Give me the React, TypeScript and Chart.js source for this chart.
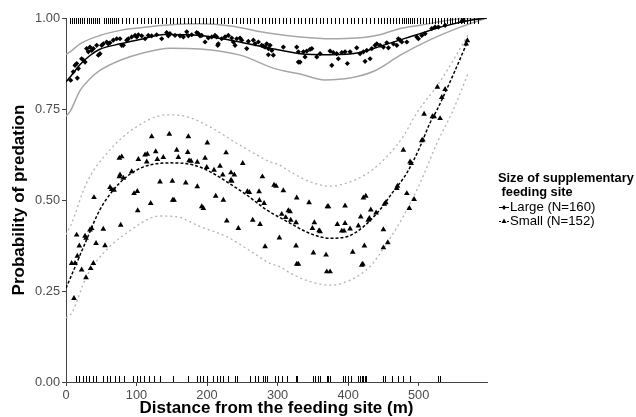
import React, { useEffect, useRef } from 'react';
import { Chart, registerables } from 'chart.js';
Chart.register(...registerables);

const FONT = "'Liberation Sans', Arial, sans-serif";

// Large site: fitted curve and 95% band
const largeFitX = [0, 6, 20, 34, 48, 77, 105, 140, 190, 233, 282, 332, 375, 417, 445, 474, 502, 531, 573, 597];
const largeFitY = [0.825, 0.838, 0.872, 0.897, 0.914, 0.929, 0.941, 0.955, 0.952, 0.939, 0.920, 0.902, 0.899, 0.905, 0.922, 0.940, 0.957, 0.975, 0.994, 1.0];
const largeUpX = [0, 6, 20, 48, 77, 105, 140, 190, 233, 289, 332, 375, 412, 445, 474, 502, 559, 597];
const largeUpY = [0.900, 0.907, 0.929, 0.952, 0.966, 0.973, 0.980, 0.984, 0.978, 0.958, 0.948, 0.943, 0.945, 0.954, 0.971, 0.980, 0.998, 1.0];
const largeLoX = [0, 6, 20, 34, 48, 77, 105, 148, 190, 247, 296, 332, 367, 403, 438, 474, 516, 559, 597];
const largeLoY = [0.730, 0.744, 0.801, 0.833, 0.856, 0.884, 0.902, 0.917, 0.915, 0.898, 0.861, 0.846, 0.830, 0.835, 0.855, 0.898, 0.940, 0.975, 1.0];

// Small site: fitted curve and 95% band
const smallFitX = [0, 8, 27, 48, 67, 86, 110, 148, 181, 204, 228, 256, 285, 303, 318, 346, 374, 398, 422, 445, 464, 483, 502, 516, 526, 552, 569];
const smallFitY = [0.258, 0.294, 0.381, 0.473, 0.527, 0.564, 0.591, 0.602, 0.596, 0.578, 0.550, 0.514, 0.472, 0.452, 0.436, 0.408, 0.395, 0.399, 0.427, 0.473, 0.523, 0.573, 0.646, 0.711, 0.747, 0.857, 0.934];
const smallUpX = [0, 8, 29, 62, 100, 143, 171, 204, 242, 275, 289, 303, 318, 346, 374, 403, 431, 455, 478, 497, 530, 570];
const smallUpY = [0.405, 0.436, 0.546, 0.637, 0.701, 0.734, 0.729, 0.701, 0.656, 0.619, 0.605, 0.596, 0.578, 0.550, 0.538, 0.550, 0.578, 0.619, 0.674, 0.738, 0.824, 0.953];
const smallLoX = [0, 8, 29, 53, 86, 133, 157, 190, 228, 266, 289, 303, 318, 346, 374, 403, 431, 455, 478, 502, 526, 549, 571];
const smallLoY = [0.176, 0.189, 0.289, 0.354, 0.409, 0.456, 0.454, 0.427, 0.399, 0.354, 0.326, 0.317, 0.299, 0.276, 0.266, 0.280, 0.317, 0.381, 0.454, 0.546, 0.656, 0.747, 0.852];

// Observed points (binned estimates)
const largePtX = [6.6, 16.1, 10.4, 12.8, 15.1, 17.5, 22.2, 24.6, 27.0, 29.3, 31.7, 34.0, 36.4, 38.8, 43.5, 45.9, 48.2, 50.6, 52.9, 57.7, 60.0, 62.4, 67.1, 71.9, 76.6, 79.0, 81.3, 86.1, 88.4, 93.2, 97.9, 100.3, 102.6, 107.4, 112.1, 116.7, 121.5, 128.6, 135.7, 142.8, 145.1,
  147.5, 154.6, 161.7, 166.4, 171.2, 173.5, 178.3, 185.4, 187.7, 190.1, 192.5, 197.2, 201.8, 206.7, 211.3, 213.7, 215.2, 216.0, 220.8, 225.5, 230.2, 235.0, 237.3, 239.7, 242.1, 246.8, 249.2, 256.3, 258.6, 265.7, 268.1, 272.8, 277.6, 282.3, 284.7, 287.0, 289.4, 291.8, 294.0, 287.0, 279.9,
  308.2, 327.2, 329.5, 331.9, 329.5, 336.6, 339.0, 341.4, 346.1, 348.5, 355.6, 360.3, 374.5, 376.9, 379.1, 383.9, 386.2, 391.1, 395.7, 399.0, 402.8, 412.3, 417.0, 421.7, 424.1, 426.5, 431.2, 433.6, 438.3, 440.7,
  445.4, 450.1, 454.9, 457.2, 464.3, 469.1, 471.3, 473.8, 476.2, 483.3, 497.4, 499.7, 504.5, 509.2, 518.7, 523.4, 528.1, 537.6, 561.3, 563.5];
const largePtY = [0.829, 0.835, 0.852, 0.870, 0.875, 0.861, 0.888, 0.884, 0.879, 0.916, 0.907, 0.920, 0.911, 0.916, 0.925, 0.898, 0.902, 0.925, 0.929, 0.934, 0.929, 0.932, 0.939, 0.943, 0.943, 0.925, 0.925, 0.939, 0.943, 0.948, 0.952, 0.948, 0.954, 0.951, 0.943, 0.952, 0.951, 0.954, 0.943, 0.960, 0.951,
  0.957, 0.952, 0.951, 0.948, 0.962, 0.951, 0.954, 0.960, 0.957, 0.951, 0.952, 0.934, 0.945, 0.948, 0.952, 0.948, 0.925, 0.929, 0.943, 0.948, 0.952, 0.945, 0.934, 0.925, 0.943, 0.945, 0.939, 0.916, 0.936, 0.939, 0.929, 0.934, 0.925, 0.920, 0.929, 0.916, 0.925, 0.911, 0.898, 0.899, 0.923,
  0.920, 0.920, 0.907, 0.879, 0.879, 0.907, 0.893, 0.909, 0.914, 0.916, 0.893, 0.902, 0.909, 0.870, 0.905, 0.902, 0.888, 0.905, 0.907, 0.875, 0.907, 0.918, 0.902, 0.907, 0.881, 0.911, 0.888, 0.916, 0.925, 0.929,
  0.925, 0.920, 0.932, 0.918, 0.929, 0.925, 0.943, 0.939, 0.934, 0.934, 0.948, 0.943, 0.952, 0.957, 0.971, 0.975, 0.975, 0.980, 0.991, 0.994];

const smallPtX = [11.3, 8.0, 12.8, 16.1, 18.9, 15.1, 27.0, 28.4, 22.2, 28.4, 34.0, 35.0, 36.4, 38.8, 39.7, 42.6, 52.9, 55.3, 62.4, 64.8, 68.1, 75.7, 79.0, 76.6, 75.7, 81.3, 77.6, 93.2, 96.5, 101.1, 101.7, 102.6, 112.1, 115.3, 114.5, 120.1, 121.5, 127.2, 129.5, 133.3, 138.0, 146.5, 150.8, 151.3, 153.2, 157.0, 159.3, 169.8, 173.5, 172.6, 174.5, 177.3, 186.2, 186.2, 192.5, 194.8, 197.2, 199.6, 200.4, 209.9, 212.3, 218.4, 222.3, 223.1, 227.0, 228.0, 234.0, 234.0, 235.0, 238.7, 244.4, 250.6, 257.2, 260.0, 264.8, 273.8, 274.2, 275.2, 278.5, 280.9, 282.3,
  295.0, 297.9, 308.2, 302.6, 305.9, 311.6, 315.3, 317.7, 318.7, 327.2, 326.2, 326.2, 327.2, 329.5, 344.7, 349.4, 352.2, 350.8, 358.9, 360.3, 368.8, 369.8, 374.5, 370.7, 372.1, 384.8, 391.0, 394.3, 395.7, 395.7, 402.8, 406.6, 414.6, 418.0, 419.4, 420.9, 421.7, 425.1, 423.1, 428.8, 430.2, 432.2, 439.7, 450.1, 451.5, 453.5, 450.1, 456.3, 469.1, 470.0, 483.3, 486.9, 493.6, 478.4, 487.9, 489.4, 504.5, 506.0, 507.8, 519.6, 522.0, 530.5, 526.7, 537.6, 532.9, 569.2, 567.4];
const smallPtY = [0.230, 0.326, 0.326, 0.346, 0.374, 0.404, 0.401, 0.395, 0.308, 0.287, 0.418, 0.312, 0.422, 0.326, 0.507, 0.381, 0.420, 0.375, 0.535, 0.529, 0.527, 0.615, 0.619, 0.569, 0.564, 0.560, 0.431, 0.578, 0.518, 0.524, 0.471, 0.612, 0.624, 0.626, 0.605, 0.491, 0.674, 0.633, 0.612, 0.550, 0.617, 0.681, 0.552, 0.500, 0.500, 0.637, 0.617, 0.547, 0.674, 0.631, 0.608, 0.607, 0.604, 0.537, 0.482, 0.477, 0.615, 0.590, 0.657, 0.582, 0.511, 0.593, 0.569, 0.500, 0.630, 0.443, 0.575, 0.555, 0.552, 0.569, 0.422, 0.601, 0.523, 0.521, 0.445, 0.523, 0.499, 0.433, 0.564, 0.491, 0.372,
  0.541, 0.538, 0.526, 0.396, 0.461, 0.452, 0.471, 0.468, 0.445, 0.506, 0.438, 0.374, 0.324, 0.324, 0.493, 0.422, 0.438, 0.355, 0.416, 0.413, 0.349, 0.303, 0.303, 0.482, 0.482, 0.433, 0.415, 0.415, 0.436, 0.484, 0.421, 0.357, 0.429, 0.454, 0.321, 0.324, 0.506, 0.511, 0.374, 0.445, 0.450, 0.473, 0.465, 0.419, 0.489, 0.493, 0.369, 0.383, 0.532, 0.538, 0.518, 0.477, 0.502, 0.637, 0.605, 0.601, 0.663, 0.665, 0.736, 0.729, 0.729, 0.724, 0.810, 0.804, 0.782, 0.938, 0.929];

// Rug: raw observations (top = predated, bottom = not predated)
const rugTop = [5.7, 8.5, 11.3, 13.6, 17.0, 19.9, 22.7, 25.5, 29.8, 32.6, 35.5, 38.3, 41.1, 44.0, 46.8, 53.9, 56.7, 59.6, 62.4, 65.2, 68.1, 70.9, 73.8, 79.4, 85.1, 89.4, 95.0, 100.7, 106.4, 110.6, 116.3, 120.6, 126.2, 130.5, 136.2, 141.8, 147.5, 151.8, 157.4, 161.7, 167.4, 173.0, 177.3, 183.0, 188.7, 194.3, 198.6, 204.3, 208.5, 214.2, 219.9, 224.1, 229.8, 235.5, 241.1, 246.8, 251.1, 256.7, 261.0, 266.7, 272.3, 278.0, 282.3, 287.9, 292.2, 296.5, 302.1, 307.8, 312.1, 317.7, 323.4, 329.1, 333.3, 339.0, 344.7, 348.9, 354.6, 360.3, 364.5, 370.2, 375.9, 381.6, 387.2, 392.9, 398.6, 404.3, 408.5, 414.2, 419.9, 425.5, 431.2, 436.9, 442.6, 446.8, 451.1, 455.3, 459.6, 463.8, 468.1, 472.3, 476.6, 479.4, 482.3, 485.1, 487.9, 490.8, 493.6, 497.9, 502.1, 506.4, 510.6, 514.9, 519.1, 523.4, 527.7, 531.9, 536.2, 540.4, 544.7, 547.5, 551.8, 556.0, 560.3, 564.5, 568.8, 573.0, 578.7, 584.4];
const rugBottom = [14.2, 18.4, 23.7, 28.4, 33.0, 37.9, 42.6, 52.9, 57.7, 62.4, 69.5, 75.6, 82.3, 94.6, 100.3, 105.0, 110.6, 117.3, 124.8, 133.3, 151.3, 173.5, 185.4, 190.1, 194.8, 200.4, 208.9, 213.8, 218.4, 223.1, 230.2, 239.7, 243.0, 261.0, 268.1, 272.8, 279.9, 282.3, 284.7, 296.5, 301.1, 305.9, 313.1, 326.2, 328.1, 349.9, 353.2, 357.9, 360.3, 369.8, 372.1, 374.5, 392.5, 395.7, 400.4, 404.3, 414.6, 417.0, 419.4, 421.7, 424.1, 425.5, 450.1, 452.5, 462.0, 471.3, 478.4, 487.9, 528.1, 530.5];

const xTickValues = [0, 100, 200, 300, 400, 500];
const yTickValues = [0, 0.25, 0.5, 0.75, 1];
const legendTitle = ['Size of supplementary', ' feeding site'];
const legendLabels = ['Large (N=160)', 'Small (N=152)'];
const xTitle = 'Distance from the feeding site (m)';
const yTitle = 'Probability of predation';

const pairs = (xs: number[], ys: number[]) => xs.map((x, i) => ({ x, y: ys[i] }));

const rugPlugin = {
  id: 'rug',
  afterDatasetsDraw(chart: any) {
    const { ctx, chartArea, scales } = chart;
    const xs = scales.x;
    ctx.save();
    ctx.strokeStyle = '#000';
    ctx.lineWidth = 1;
    ctx.beginPath();
    for (const v of rugTop) {
      const px = Math.round(xs.getPixelForValue(v)) + 0.5;
      ctx.moveTo(px, chartArea.top);
      ctx.lineTo(px, chartArea.top + 6);
    }
    for (const v of rugBottom) {
      const px = Math.round(xs.getPixelForValue(v)) + 0.5;
      ctx.moveTo(px, chartArea.bottom - 6);
      ctx.lineTo(px, chartArea.bottom);
    }
    ctx.stroke();
    ctx.restore();
  },
};

const legendPlugin = {
  id: 'customLegend',
  afterDraw(chart: any) {
    const { ctx, chartArea } = chart;
    const x0 = chartArea.right + 11;
    ctx.save();
    ctx.fillStyle = '#000';
    ctx.textBaseline = 'middle';
    ctx.textAlign = 'left';
    ctx.font = `bold 12.8px ${FONT}`;
    ctx.fillText(legendTitle[0], x0, 178);
    ctx.fillText(legendTitle[1], x0, 192);
    ctx.font = `13.2px ${FONT}`;
    const ys = [207, 221];
    legendLabels.forEach((label, i) => {
      const y = ys[i];
      ctx.strokeStyle = '#000';
      ctx.lineWidth = 1;
      ctx.setLineDash(i === 0 ? [] : [2, 2]);
      ctx.beginPath();
      ctx.moveTo(x0 + 1, y + 0.5);
      ctx.lineTo(x0 + 11, y + 0.5);
      ctx.stroke();
      ctx.setLineDash([]);
      ctx.fillStyle = '#000';
      ctx.beginPath();
      if (i === 0) {
        ctx.moveTo(x0 + 6, y - 2);
        ctx.lineTo(x0 + 8, y + 0.5);
        ctx.lineTo(x0 + 6, y + 3);
        ctx.lineTo(x0 + 4, y + 0.5);
      } else {
        ctx.moveTo(x0 + 6, y - 2.5);
        ctx.lineTo(x0 + 8.5, y + 2);
        ctx.lineTo(x0 + 3.5, y + 2);
      }
      ctx.closePath();
      ctx.fill();
      ctx.fillText(label, x0 + 12, y);
    });
    ctx.restore();
  },
};

export default function App() {
  const ref = useRef<HTMLCanvasElement>(null);
  useEffect(() => {
    const lineBase = { showLine: true, pointRadius: 0, cubicInterpolationMode: 'monotone', fill: false };
    const chart = new Chart(ref.current as HTMLCanvasElement, {
      type: 'scatter',
      data: {
        datasets: [
          { label: 'Small points', data: pairs(smallPtX, smallPtY), pointStyle: 'triangle', radius: 3.3, backgroundColor: '#000', borderColor: '#000', borderWidth: 0 },
          { label: 'Large points', data: pairs(largePtX, largePtY), pointStyle: 'rectRot', radius: 2.6, backgroundColor: '#000', borderColor: '#000', borderWidth: 0 },
          { ...lineBase, label: 'Small fit', data: pairs(smallFitX, smallFitY), borderColor: '#000', borderWidth: 1.5, borderDash: [3, 2] },
          { ...lineBase, label: 'Large fit', data: pairs(largeFitX, largeFitY), borderColor: '#000', borderWidth: 1.5 },
          { ...lineBase, label: 'Small upper', data: pairs(smallUpX, smallUpY), borderColor: '#b3b3b3', borderWidth: 1.3, borderDash: [2, 3] },
          { ...lineBase, label: 'Small lower', data: pairs(smallLoX, smallLoY), borderColor: '#b3b3b3', borderWidth: 1.3, borderDash: [2, 3] },
          { ...lineBase, label: 'Large upper', data: pairs(largeUpX, largeUpY), borderColor: '#a6a6a6', borderWidth: 1.5 },
          { ...lineBase, label: 'Large lower', data: pairs(largeLoX, largeLoY), borderColor: '#a6a6a6', borderWidth: 1.5 },
        ] as any,
      },
      options: {
        animation: false,
        responsive: false,
        maintainAspectRatio: false,
        layout: { padding: { left: 0, top: 18, right: 149, bottom: 0 } },
        plugins: { legend: { display: false }, tooltip: { enabled: false } },
        scales: {
          x: {
            type: 'linear',
            min: 0,
            max: 597,
            border: { display: true, color: '#444', width: 1 },
            grid: { display: true, drawOnChartArea: false, drawTicks: true, tickLength: 4, color: '#444' },
            ticks: { color: '#4d4d4d', font: { family: FONT, size: 12.8 }, padding: 2, maxRotation: 0, minRotation: 0, autoSkip: false, callback: (v: any) => String(Math.round(Number(v))) },
            title: { display: true, text: xTitle, color: '#000', font: { family: FONT, size: 17, weight: 'bold', lineHeight: 1 }, padding: { top: 0, bottom: 0 } },
            afterBuildTicks: (s: any) => { s.ticks = xTickValues.map((value) => ({ value })); },
            afterFit: (s: any) => { s.height = 35; },
          },
          y: {
            type: 'linear',
            min: 0,
            max: 1,
            border: { display: true, color: '#444', width: 1 },
            grid: { display: true, drawOnChartArea: false, drawTicks: true, tickLength: 4, color: '#444' },
            ticks: { color: '#4d4d4d', font: { family: FONT, size: 12.8 }, padding: 2, autoSkip: false, callback: (v: any) => Number(v).toFixed(2) },
            title: { display: true, text: yTitle, color: '#000', font: { family: FONT, size: 17, weight: 'bold', lineHeight: 1 }, padding: { top: 11, bottom: 0 } },
            afterBuildTicks: (s: any) => { s.ticks = yTickValues.map((value) => ({ value })); },
            afterFit: (s: any) => { s.width = 66; },
          },
        },
      } as any,
      plugins: [rugPlugin, legendPlugin],
    });
    return () => chart.destroy();
  }, []);
  return (
    <div style={{ position: 'absolute', left: 0, top: 0, width: 636, height: 417, background: '#fff' }}>
      <canvas ref={ref} width={636} height={417} style={{ display: 'block', width: 636, height: 417 }} />
    </div>
  );
}
